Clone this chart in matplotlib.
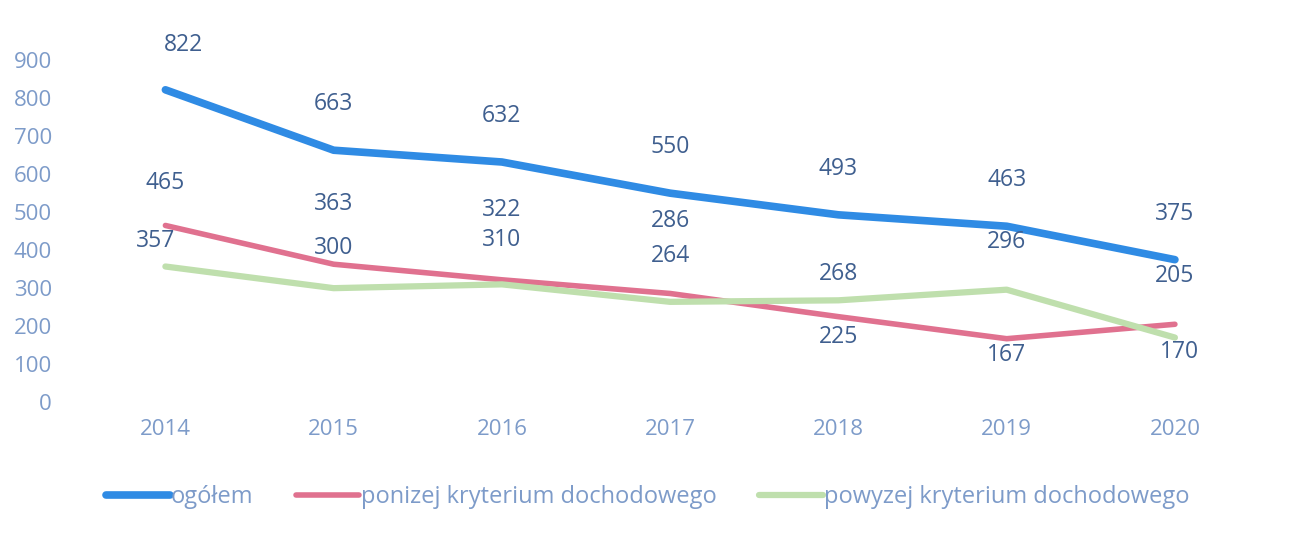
import matplotlib
matplotlib.use("Agg")
import matplotlib.pyplot as plt

YEARS = ["2014", "2015", "2016", "2017", "2018", "2019", "2020"]
OGOLEM = [822, 663, 632, 550, 493, 463, 375]
PONIZEJ = [465, 363, 322, 286, 225, 167, 205]
POWYZEJ = [357, 300, 310, 264, 268, 296, 170]
NAMES = ["ogółem", "ponizej kryterium dochodowego", "powyzej kryterium dochodowego"]

BLUE, PINK, GREEN = "#2f8be4", "#e0718f", "#bfdfad"
LABEL_C, TICK_C = "#3f5f8f", "#7d9bc9"

# label offsets in pixels (dx, dy) per point
OFF_BLUE = [(18, 45)] + [(0, 46)] * 6
OFF_PINK = [(0, 42), (0, 60), (0, 70), (0, 72), (0, -20), (0, -16), (0, 48)]
OFF_GREEN = [(-10, 26), (0, 40), (0, 44), (0, 46), (0, 26), (0, 48), (5, -14)]

plt.rcParams["font.family"] = ["Open Sans", "DejaVu Sans"]

fig = plt.figure(figsize=(12.9, 5.42), dpi=100)
ax = fig.add_axes([0.063, 0.258, 0.913, 0.631])
x = list(range(len(YEARS)))

series = [(OGOLEM, BLUE, 5.5, OFF_BLUE), (PONIZEJ, PINK, 4, OFF_PINK),
          (POWYZEJ, GREEN, 4.5, OFF_GREEN)]
for (vals, col, lw, offs), name in zip(series, NAMES):
    ax.plot(x, vals, color=col, lw=lw, solid_capstyle="round", label=name)
for vals, col, lw, offs in series:
    for xi, v, (dx, dy) in zip(x, vals, offs):
        ax.annotate(str(v), (xi, v), xytext=(dx * 0.72, dy * 0.72), textcoords="offset points",
                    ha="center", va="center", fontsize=16.5, color=LABEL_C)

ax.set_xlim(-0.5, len(YEARS) - 0.5)
ax.set_ylim(0, 900)
ax.set_yticks(range(0, 1000, 100))
ax.set_xticks(x)
ax.set_xticklabels(YEARS)
ax.tick_params(length=0, labelsize=16, colors=TICK_C)
ax.tick_params(axis="x", pad=12)
ax.tick_params(axis="y", pad=21)
for s in ax.spines.values():
    s.set_visible(False)

fig.legend(loc="center", bbox_to_anchor=(0.502, 0.083), ncol=3, frameon=False,
           fontsize=17, handlelength=2.7, handletextpad=0.05, columnspacing=1.8,
           labelcolor=TICK_C)

fig.savefig("out.png")
